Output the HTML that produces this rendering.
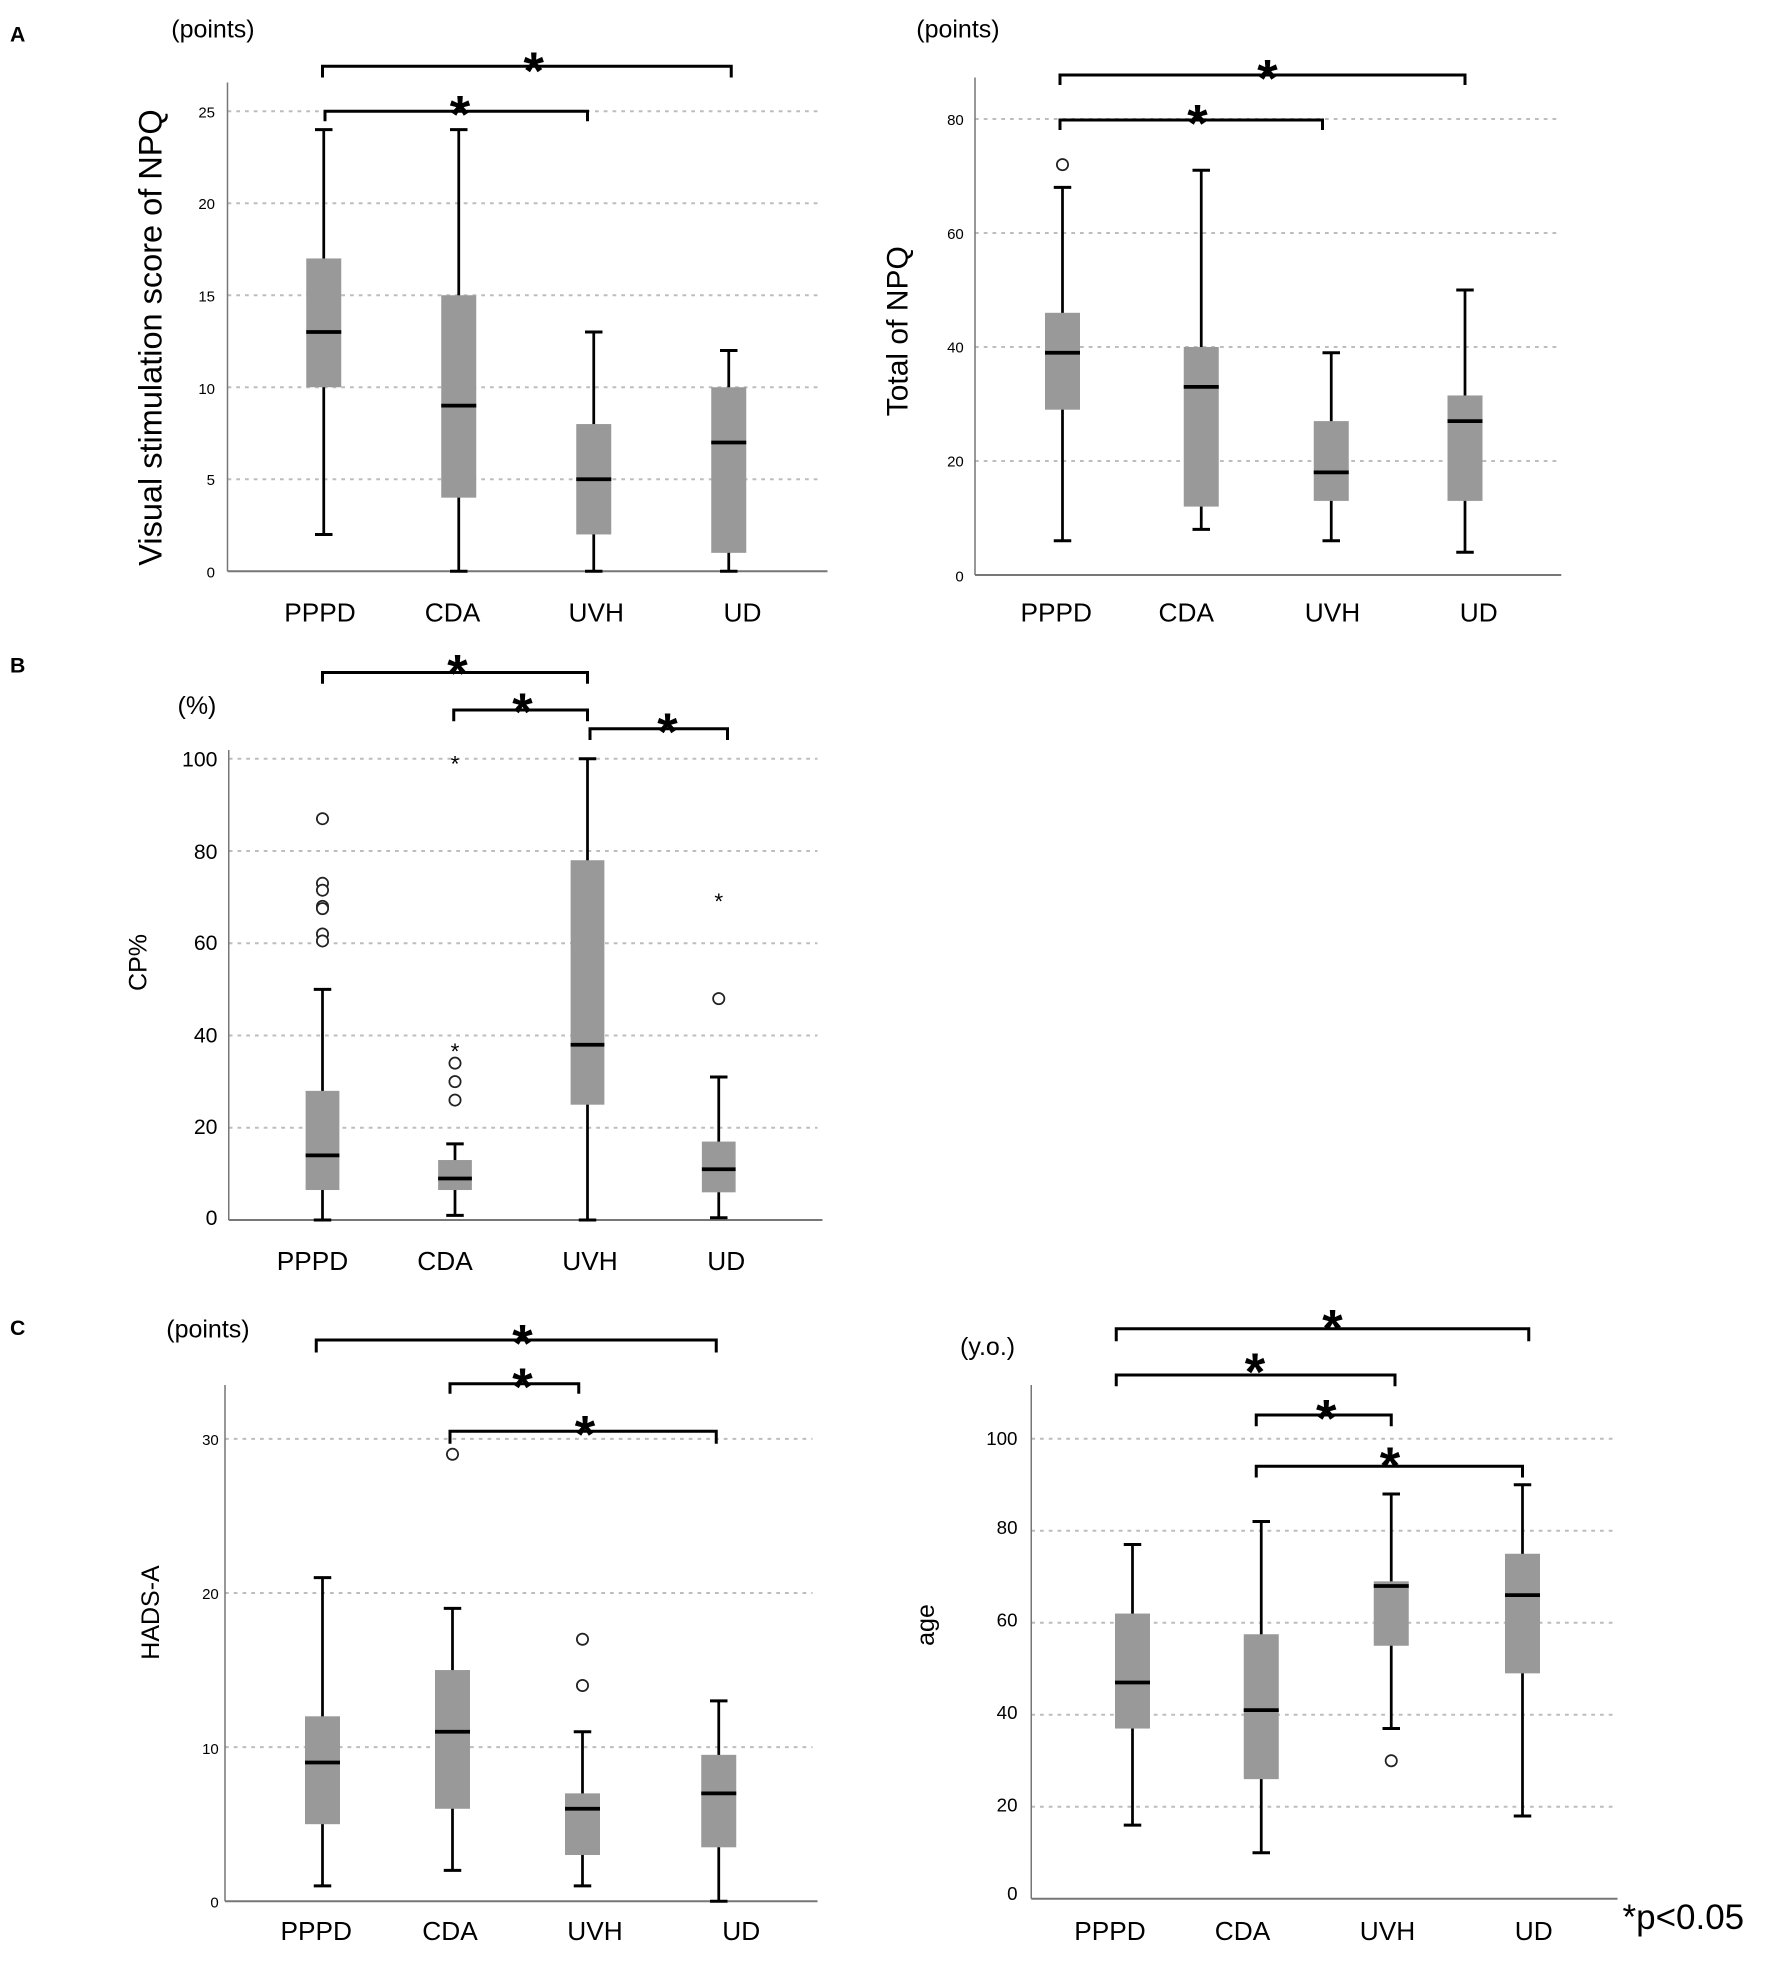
<!DOCTYPE html>
<html><head><meta charset="utf-8"><style>
html,body{margin:0;padding:0;background:#fff}
svg{display:block}
text{font-family:"Liberation Sans",Arial,sans-serif;fill:#000}
.t{font-size:12px}
.xl{font-size:21px}
.u{font-size:20px}
.st{font-size:42px;font-weight:bold}
.pl{font-size:17px;font-weight:bold}
</style></head><body>
<svg id="s" width="1772" height="1966" viewBox="0 0 1417.6 1572.8" xmlns="http://www.w3.org/2000/svg">
<rect width="1417.6" height="1572.8" fill="#fff"/>
<g id="g"></g>
<text class="pl" x="8" y="33">A</text>
<text class="pl" x="8" y="538">B</text>
<text class="pl" x="8" y="1068">C</text>

<text class="u" x="137" y="30">(points)</text>
<text x="0" y="0" font-size="26" transform="translate(129,270) rotate(-90)" text-anchor="middle">Visual stimulation score of NPQ</text>
<g class="t" text-anchor="end">
<text x="172" y="94">25</text><text x="172" y="167">20</text><text x="172" y="241">15</text>
<text x="172" y="315">10</text><text x="172" y="388">5</text><text x="172" y="462">0</text>
</g>
<g class="xl" text-anchor="middle">
<text x="256" y="497">PPPD</text><text x="362" y="497">CDA</text><text x="477" y="497">UVH</text><text x="594" y="497">UD</text>
</g>
<text class="st" x="427" y="71" text-anchor="middle">*</text>
<text class="st" x="368" y="106" text-anchor="middle">*</text>

<text class="u" x="733" y="30">(points)</text>
<text x="0" y="0" font-size="24" transform="translate(726,265) rotate(-90)" text-anchor="middle">Total of NPQ</text>
<g class="t" text-anchor="end">
<text x="771" y="100">80</text><text x="771" y="191">60</text><text x="771" y="282">40</text>
<text x="771" y="373">20</text><text x="771" y="465">0</text>
</g>
<g class="xl" text-anchor="middle">
<text x="845" y="497">PPPD</text><text x="949" y="497">CDA</text><text x="1066" y="497">UVH</text><text x="1183" y="497">UD</text>
</g>
<text class="st" x="1014" y="77" text-anchor="middle">*</text>
<text class="st" x="958" y="113" text-anchor="middle">*</text>

<text class="u" x="142" y="571">(%)</text>
<text x="0" y="0" font-size="20" transform="translate(117,770) rotate(-90)" text-anchor="middle">CP%</text>
<g font-size="17" text-anchor="end">
<text x="174" y="613">100</text><text x="174" y="687">80</text><text x="174" y="760">60</text>
<text x="174" y="834">40</text><text x="174" y="907">20</text><text x="174" y="980">0</text>
</g>
<g class="xl" text-anchor="middle">
<text x="250" y="1016">PPPD</text><text x="356" y="1016">CDA</text><text x="472" y="1016">UVH</text><text x="581" y="1016">UD</text>
</g>
<text class="st" x="366" y="553" text-anchor="middle">*</text>
<text class="st" x="418" y="584" text-anchor="middle">*</text>
<text class="st" x="534" y="600" text-anchor="middle">*</text>
<g font-size="18" text-anchor="middle">
<text x="364" y="617">*</text><text x="364" y="847">*</text><text x="575" y="727">*</text>
</g>

<text class="u" x="133" y="1070">(points)</text>
<text x="0" y="0" font-size="20" transform="translate(127,1290) rotate(-90)" text-anchor="middle">HADS-A</text>
<g class="t" text-anchor="end">
<text x="175" y="1156">30</text><text x="175" y="1279">20</text><text x="175" y="1403">10</text><text x="175" y="1526">0</text>
</g>
<g class="xl" text-anchor="middle">
<text x="253" y="1552">PPPD</text><text x="360" y="1552">CDA</text><text x="476" y="1552">UVH</text><text x="593" y="1552">UD</text>
</g>
<text class="st" x="418" y="1089" text-anchor="middle">*</text>
<text class="st" x="418" y="1124" text-anchor="middle">*</text>
<text class="st" x="468" y="1162" text-anchor="middle">*</text>

<text class="u" x="768" y="1084">(y.o.)</text>
<text x="0" y="0" font-size="20" transform="translate(747,1300) rotate(-90)" text-anchor="middle">age</text>
<g font-size="15" text-anchor="end">
<text x="814" y="1156">100</text><text x="814" y="1227">80</text><text x="814" y="1301">60</text>
<text x="814" y="1375">40</text><text x="814" y="1449">20</text><text x="814" y="1520">0</text>
</g>
<g class="xl" text-anchor="middle">
<text x="888" y="1552">PPPD</text><text x="994" y="1552">CDA</text><text x="1110" y="1552">UVH</text><text x="1227" y="1552">UD</text>
</g>
<text class="st" x="1066" y="1077" text-anchor="middle">*</text>
<text class="st" x="1004" y="1112" text-anchor="middle">*</text>
<text class="st" x="1061" y="1149" text-anchor="middle">*</text>
<text class="st" x="1112" y="1187" text-anchor="middle">*</text>
<text x="1298" y="1543" font-size="28">*p&lt;0.05</text>
</svg>
<script>
var g=document.getElementById('g'),NS='http://www.w3.org/2000/svg';
function el(n,a){var e=document.createElementNS(NS,n);for(var k in a)e.setAttribute(k,a[k]);g.appendChild(e);return e;}
function line(x1,y1,x2,y2,w,c,da){var a={x1:x1,y1:y1,x2:x2,y2:y2,stroke:c||'#000','stroke-width':w||2};if(da)a['stroke-dasharray']=da;el('line',a);}
function panel(p){
  var Y=function(v){return p.y0-(v-p.v0)*p.u;};
  p.grid.forEach(function(v){line(p.ax,Y(v),p.gx,Y(v),1.6,'#bdbdbd','3,4');});
  line(p.ax,p.top,p.ax,p.y0,1.2,'#777');
  line(p.ax,p.y0,p.gx+4,p.y0,1.6,'#777');
  p.b.forEach(function(b){
    var cx=b[0],w=p.bw;
    line(cx,Y(b[1]),cx,Y(b[5]),2.2);
    line(cx-7,Y(b[1]),cx+7,Y(b[1]),2.4);
    line(cx-7,Y(b[5]),cx+7,Y(b[5]),2.4);
    el('rect',{x:cx-w/2,y:Y(b[4]),width:w,height:Y(b[2])-Y(b[4]),fill:'#999'});
    line(cx-w/2,Y(b[3]),cx+w/2,Y(b[3]),3);
    (b[6]||[]).forEach(function(o){el('circle',{cx:cx,cy:Y(o),r:4.5,fill:'#fff',stroke:'#222','stroke-width':1.4});});
  });
  p.br.forEach(function(r){
    var x1=r[0],x2=r[1],y=r[2],d=r[3]||9;
    el('path',{d:'M'+x1+' '+(y+d)+'V'+y+'H'+x2+'V'+(y+d),fill:'none',stroke:'#000','stroke-width':2.4});
  });
}
panel({ax:182,y0:457,v0:0,u:14.72,top:66,gx:658,bw:28,grid:[5,10,15,20,25],
 b:[[259,2,10,13,17,24],[367,0,4,9,15,24],[475,0,2,5,8,13],[583,0,1,7,10,12]],
 br:[[258,585,53,9],[260,470,89,8]]});
panel({ax:780,y0:460,v0:0,u:4.56,top:62,gx:1245,bw:28,grid:[20,40,60,80],
 b:[[850,6,29,39,46,68,[72]],[961,8,12,33,40,71],[1065,6,13,18,27,39],[1172,4,13,27,31.5,50]],
 br:[[848,1172,60,8],[848,1058,96,8]]});
panel({ax:183,y0:976,v0:0,u:3.69,top:600,gx:654,bw:27,grid:[20,40,60,80,100],
 b:[[258,0,6.5,14,28,50,[87,73,71.5,68,67.5,62,60.5]],[364,1,6.5,9,13,16.5,[34,30,26]],[470,0,25,38,78,100],[575,0.5,6,11,17,31,[48]]],
 br:[[258,470,538,9],[363,470,568,9],[472,582,583,9]]});
panel({ax:180,y0:1521,v0:0,u:12.33,top:1108,gx:650,bw:28,grid:[10,20,30],
 b:[[258,1,5,9,12,21],[362,2,6,11,15,19,[29]],[466,1,3,6,7,11,[14,17]],[575,0,3.5,7,9.5,13]],
 br:[[253,573,1072,10],[360,463,1107,8],[360,573,1145,10]]});
panel({ax:825,y0:1519,v0:0,u:3.68,top:1108,gx:1290,bw:28,grid:[20,40,60,80,100],
 b:[[906,16,37,47,62,77],[1009,10,26,41,57.5,82],[1113,37,55,68,69,88,[30]],[1218,18,49,66,75,90]],
 br:[[893,1223,1063,10],[893,1116,1100,9],[1005,1113,1132,9],[1005,1218,1173,9]]});
</script>
</body></html>
